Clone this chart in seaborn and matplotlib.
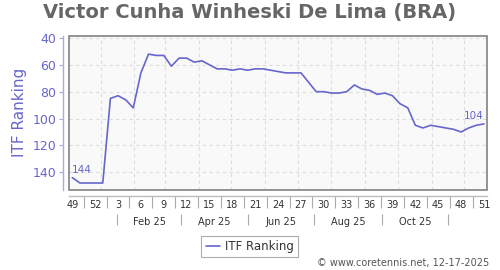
import matplotlib
matplotlib.use("Agg")
import matplotlib.pyplot as plt
import seaborn as sns
import pandas as pd
from datetime import date
from matplotlib.patches import Rectangle
from matplotlib.lines import Line2D

# ---- data ----
weeks = [49, 50, 51, 52] + list(range(1, 52))
ranks = [144, 148, 148, 148, 148, 85, 83, 86, 92, 66,
         52, 53, 53, 61, 55, 55, 58, 57, 60, 63,
         63, 64, 63, 64, 63, 63, 64, 65, 66, 66,
         66, 73, 80, 80, 81, 81, 80, 75, 78, 79,
         82, 81, 83, 89, 92, 105, 107, 105, 106, 107,
         108, 110, 107, 105, 104]
month_labels = ["Feb 25", "Apr 25", "Jun 25", "Aug 25", "Oct 25"]
y_ticks = [40, 60, 80, 100, 120, 140]
series_name = "ITF Ranking"
title = "Victor Cunha Winheski De Lima (BRA)"
footer = "\u00a9 www.coretennis.net, 12-17-2025"

first_day = date(2024, 12, 6)

def to_idx(d):
    return (d - first_day).days / 7.0

df = pd.DataFrame({"idx": list(range(len(ranks))), "rank": ranks})

sns.set_style("white")
plt.rcParams["font.family"] = ["DejaVu Sans"]

PURPLE = "#6666cc"
fig = plt.figure(figsize=(5, 2.7), dpi=100)
ax = fig.add_axes([0.1374, 0.2963, 0.8366, 0.5715])
ax.set_facecolor("#f9f9f9")

# grid
month_starts = [to_idx(date(2025, m, 1)) for m in range(1, 13)]
for x in month_starts:
    ax.axvline(x, color="#dcdcdc", lw=0.8, ls=(0, (3, 3)), zorder=0)
for y in y_ticks:
    ax.axhline(y, color="#dcdcdc", lw=0.8, ls=(0, (3, 3)), zorder=0)

sns.lineplot(data=df, x="idx", y="rank", ax=ax, color=PURPLE, lw=1.2,
             legend=False, zorder=3)

ax.set_xlim(-0.47, 54.4)
ax.set_ylim(153.2, 38.3)

# frame
ax.add_patch(Rectangle((0, 0), 1, 1, transform=ax.transAxes, fill=False,
                       ec="#777777", lw=1.1, clip_on=False, zorder=5))
for s in ["top", "right"]:
    ax.spines[s].set_visible(False)
ax.spines["left"].set_position(("outward", 3.9))
ax.spines["left"].set_color("#aaaadd")
ax.spines["left"].set_linewidth(1)
ax.spines["bottom"].set_position(("outward", 4.3))
ax.spines["bottom"].set_color("#bbbbbb")
ax.spines["bottom"].set_linewidth(1)

# y axis
ax.set_yticks(y_ticks)
ax.set_yticklabels([str(v) for v in y_ticks])
ax.tick_params(axis="y", left=True, length=3, width=0.8, color="#aaaadd",
               labelcolor=PURPLE, labelsize=9, pad=2)
ax.set_ylabel(series_name, color=PURPLE, fontsize=11)
ax.yaxis.set_label_coords(-0.099, 0.5)

# x axis: week labels
major_idx = list(range(0, len(weeks), 3))
ax.set_xticks(major_idx)
ax.set_xticklabels([str(weeks[i]) for i in major_idx])
ax.set_xticks([i + 1.5 for i in major_idx[:-1]], minor=True)
ax.tick_params(axis="x", which="major", bottom=True, length=0, labelsize=7,
               labelcolor="#333333", pad=3)
ax.tick_params(axis="x", which="minor", bottom=True, length=8.5, width=0.8,
               color="#aaaaaa")
ax.set_xlabel("")

# second row: months
sep_idx = [to_idx(date(2025, m, 16)) for m in (1, 3, 5, 7, 9, 11)]
lab_idx = [(sep_idx[k] + sep_idx[k + 1]) / 2 for k in range(len(sep_idx) - 1)]
sec = ax.secondary_xaxis(-0.1555)
sec.spines["bottom"].set_visible(False)
sec.set_xticks(lab_idx)
sec.set_xticklabels(month_labels)
sec.set_xticks(sep_idx, minor=True)
sec.tick_params(axis="x", which="major", length=0, labelsize=7,
                labelcolor="#333333", pad=2)
sec.tick_params(axis="x", which="minor", length=8, width=0.8, color="#aaaaaa")

# annotations
ax.annotate(str(ranks[0]), xy=(0, ranks[0]), xytext=(0, 3.5),
            textcoords="offset points", ha="left", va="baseline",
            color=PURPLE, fontsize=7.5)
ax.annotate(str(ranks[-1]), xy=(len(ranks) - 1, ranks[-1]), xytext=(0, 3.5),
            textcoords="offset points", ha="right", va="baseline",
            color=PURPLE, fontsize=7.5)

# title
fig.text(0.499, 1 - 18.3 / 270, title, ha="center", va="baseline",
         fontsize=14, fontweight="bold", color="#666666")

# legend
handle = Line2D([], [], color=PURPLE, lw=1.2)
leg = fig.legend([handle], [series_name], loc="center",
                 bbox_to_anchor=(249.5 / 500, 1 - 246.3 / 270),
                 frameon=True, fancybox=False, edgecolor="#999999",
                 fontsize=8.5, handlelength=1.2, handletextpad=0.4,
                 borderpad=0.35, borderaxespad=0)
leg.get_frame().set_linewidth(0.8)
for t in leg.get_texts():
    t.set_color("#333333")

# footer
fig.text(489 / 500, 1 - 263 / 270, footer, ha="right", va="center",
         fontsize=7, color="#555555")

fig.savefig("out.png", dpi=100)
